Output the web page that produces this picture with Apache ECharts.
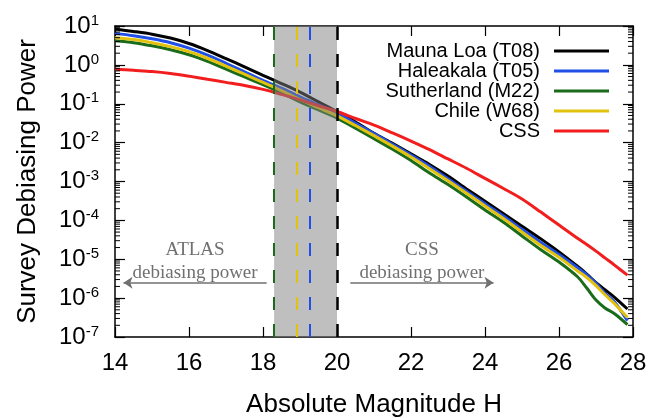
<!DOCTYPE html>
<html>
<head>
<meta charset="utf-8">
<script src="https://cdn.jsdelivr.net/npm/echarts@6/dist/echarts.min.js"></script>
<style>html,body{margin:0;padding:0;background:#fff}#c{width:666px;height:418px}</style>
</head>
<body>
<div id="c"></div>
<script>
// Absolute magnitude H (x positions of the read points)
const H = [14, 14.5, 15, 15.5, 16, 16.5, 17, 17.5, 18, 18.5, 19, 19.5, 20, 20.5, 21, 21.5, 22, 22.5, 23, 23.5, 24, 24.5, 25, 25.5, 26, 26.5, 26.75, 27, 27.25, 27.5, 27.85];

const maunaLoa = [8.32, 7.24, 6.17, 4.90, 3.55, 2.34, 1.45, 0.891, 0.537, 0.331, 0.200, 0.112, 6.31e-2, 3.39e-2, 1.74e-2, 9.55e-3, 5.13e-3, 2.75e-3, 1.38e-3, 6.46e-4, 3.09e-4, 1.48e-4, 7.08e-5, 3.39e-5, 1.55e-5, 6.61e-6, 4.17e-6, 2.51e-6, 1.62e-6, 1.05e-6, 5.25e-7];
const haleakala = [6.46, 5.62, 4.68, 3.72, 2.69, 1.78, 1.10, 0.661, 0.398, 0.251, 0.151, 9.33e-2, 5.75e-2, 3.16e-2, 1.70e-2, 9.12e-3, 4.79e-3, 2.45e-3, 1.17e-3, 5.62e-4, 2.69e-4, 1.29e-4, 5.89e-5, 2.75e-5, 1.32e-5, 6.03e-6, 3.98e-6, 2.40e-6, 1.32e-6, 7.94e-7, 2.63e-7];
const sutherland = [4.17, 3.72, 3.09, 2.45, 1.82, 1.23, 0.776, 0.490, 0.309, 0.191, 0.112, 6.92e-2, 4.27e-2, 2.34e-2, 1.26e-2, 6.76e-3, 3.47e-3, 1.66e-3, 8.32e-4, 3.98e-4, 1.86e-4, 8.91e-5, 3.98e-5, 1.78e-5, 8.51e-6, 3.55e-6, 1.82e-6, 8.91e-7, 5.50e-7, 3.98e-7, 2.09e-7];
const chile = [5.01, 4.47, 3.72, 2.95, 2.19, 1.48, 0.933, 0.575, 0.355, 0.219, 0.129, 7.94e-2, 4.90e-2, 2.75e-2, 1.51e-2, 8.13e-3, 4.27e-3, 2.14e-3, 1.05e-3, 5.01e-4, 2.34e-4, 1.12e-4, 5.01e-5, 2.29e-5, 1.12e-5, 5.01e-6, 3.39e-6, 2.09e-6, 1.20e-6, 7.24e-7, 3.16e-7];
const css = [0.776, 0.724, 0.676, 0.603, 0.513, 0.427, 0.355, 0.295, 0.234, 0.174, 0.126, 8.91e-2, 6.31e-2, 4.17e-2, 2.82e-2, 1.78e-2, 1.10e-2, 6.61e-3, 3.80e-3, 2.19e-3, 1.20e-3, 6.61e-4, 3.55e-4, 1.66e-4, 7.59e-5, 3.47e-5, 2.40e-5, 1.62e-5, 1.07e-5, 7.08e-6, 3.89e-6];

const seriesNames = ['Mauna Loa (T08)', 'Haleakala (T05)', 'Sutherland (M22)', 'Chile (W68)', 'CSS'];
const seriesColors = ['#000000', '#1f4fe6', '#1a6b1a', '#e3c20f', '#f21e1e'];
const seriesValues = [maunaLoa, haleakala, sutherland, chile, css];

// survey limits (vertical dashed lines) and shaded band
const limitH = [18.3, 18.9, 19.25, 20.0];
const limitColors = ['#1a6b1a', '#e3c20f', '#1f4fe6', '#000000'];
const bandH = [18.3, 20.0];

// axis range
const xMin = 14, xMax = 28, xStep = 2;
const yMin = 1e-7, yMax = 10;

// annotations
const atlasArrow = [18.1, 14.23];
const cssArrow = [20.36, 24.23];
const arrowY = 2.5e-6;

// minor log ticks (2..9 x 10^k)
const minorVals = [];
for (let k = -7; k < 1; k++) {
  for (let m = 2; m <= 9; m++) minorVals.push(+(m * Math.pow(10, k)).toPrecision(3));
}

const sans = 'Liberation Sans, Arial, Helvetica, sans-serif';
const serif = 'Liberation Serif, Times New Roman, serif';

function toPairs(vals) { return vals.map((v, i) => [H[i], v]); }

const lineSeries = seriesNames.map((n, i) => ({
  name: n, type: 'line', xAxisIndex: 0, yAxisIndex: 0,
  data: toPairs(seriesValues[i]), showSymbol: false, symbol: 'none',
  smooth: 0.3,
  lineStyle: { color: seriesColors[i], width: 3 }, itemStyle: { color: seriesColors[i] },
  z: 2, animation: false
}));

const chart = echarts.init(document.getElementById('c'), null, { renderer: 'canvas' });

const majorTick = { show: true, inside: true, length: 10, lineStyle: { color: '#000', width: 1.2 } };

chart.setOption({
  animation: false,
  backgroundColor: '#fff',
  grid: { left: 115, right: 33, top: 26, bottom: 81, containLabel: false, outerBoundsMode: 'none' },
  legend: {
    data: seriesNames,
    orient: 'vertical', align: 'right',
    right: 52, top: 36,
    icon: 'rect', itemWidth: 55, itemHeight: 3, itemGap: 0,
    textStyle: { fontFamily: sans, fontSize: 20, color: '#000', lineHeight: 20, padding: [0, 9, 0, 0] },
    selectedMode: false
  },
  xAxis: [
    { type: 'value', min: xMin, max: xMax, interval: xStep, position: 'bottom',
      name: 'Absolute Magnitude H', nameLocation: 'middle', nameGap: 55,
      nameTextStyle: { fontFamily: sans, fontSize: 26, color: '#000' },
      axisLine: { show: true, onZero: false, lineStyle: { color: '#000', width: 1.5 } },
      axisTick: majorTick,
      axisLabel: { fontFamily: sans, fontSize: 24, color: '#000', margin: 14 },
      splitLine: { show: false } },
    { type: 'value', min: xMin, max: xMax, interval: xStep, position: 'top',
      axisLine: { show: true, onZero: false, lineStyle: { color: '#000', width: 1.5 } },
      axisTick: majorTick, axisLabel: { show: false }, splitLine: { show: false } }
  ],
  yAxis: [
    { type: 'log', min: yMin, max: yMax, logBase: 10, position: 'left',
      name: 'Survey Debiasing Power', nameLocation: 'middle', nameGap: 74,
      nameTextStyle: { fontFamily: sans, fontSize: 26, color: '#000' },
      axisLine: { show: true, onZero: false, lineStyle: { color: '#000', width: 1.5 } },
      axisTick: majorTick,
      axisLabel: {
        margin: 16,
        formatter: function (v) {
          const e = Math.round(Math.log10(v));
          return '{b|10}{s|' + e + '}';
        },
        rich: {
          b: { fontFamily: sans, fontSize: 24, color: '#000', lineHeight: 26 },
          s: { fontFamily: sans, fontSize: 15, color: '#000', verticalAlign: 'top', lineHeight: 15 }
        }
      },
      splitLine: { show: false } },
    { type: 'log', min: yMin, max: yMax, logBase: 10, position: 'right',
      axisLine: { show: true, onZero: false, lineStyle: { color: '#000', width: 1.5 } },
      axisTick: majorTick, axisLabel: { show: false }, splitLine: { show: false } }
  ],
  series: lineSeries.concat([
    {
      name: 'minorTicks', type: 'custom', xAxisIndex: 0, yAxisIndex: 0, z: 6, silent: true,
      clip: false,
      data: minorVals.map(v => [xMin, v]),
      encode: { x: 0, y: 1 },
      renderItem: function (params, api) {
        const v = api.value(1);
        const pL = api.coord([xMin, v]);
        const pR = api.coord([xMax, v]);
        const st = { stroke: '#000', lineWidth: 1 };
        return { type: 'group', children: [
          { type: 'line', shape: { x1: pL[0], y1: pL[1], x2: pL[0] + 5, y2: pL[1] }, style: st },
          { type: 'line', shape: { x1: pR[0], y1: pR[1], x2: pR[0] - 5, y2: pR[1] }, style: st }
        ] };
      }
    },
    {
      name: 'band', type: 'line', data: [], xAxisIndex: 0, yAxisIndex: 0, z: 3,
      markArea: {
        silent: true, z: 3,
        itemStyle: { color: 'rgba(128,128,128,0.5)' },
        data: [[{ xAxis: bandH[0] }, { xAxis: bandH[1] }]]
      },
      markLine: {
        silent: true, symbol: 'none', z: 5,
        label: { show: false },
        data: limitH.map((h, i) => ({
          xAxis: h,
          lineStyle: { color: limitColors[i], type: [13, 14], width: i === 3 ? 2.5 : 2 }
        }))
      }
    },
    {
      name: 'notes', type: 'line', data: [], xAxisIndex: 0, yAxisIndex: 0, z: 4,
      markLine: {
        silent: true, z: 4,
        symbolSize: 9,
        lineStyle: { color: '#707070', width: 1.5, type: 'solid' },
        label: {
          show: true, position: 'middle', distance: -2,
          fontFamily: serif, fontSize: 19, color: '#707070', lineHeight: 23, align: 'center'
        },
        data: [
          [{ coord: [atlasArrow[1], arrowY], symbol: 'arrow', label: { formatter: 'ATLAS\ndebiasing power' } },
           { coord: [atlasArrow[0], arrowY], symbol: 'none' }],
          [{ coord: [cssArrow[0], arrowY], symbol: 'none', label: { formatter: 'CSS\ndebiasing power' } },
           { coord: [cssArrow[1], arrowY], symbol: 'arrow' }]
        ]
      }
    }
  ])
});
</script>
</body>
</html>
